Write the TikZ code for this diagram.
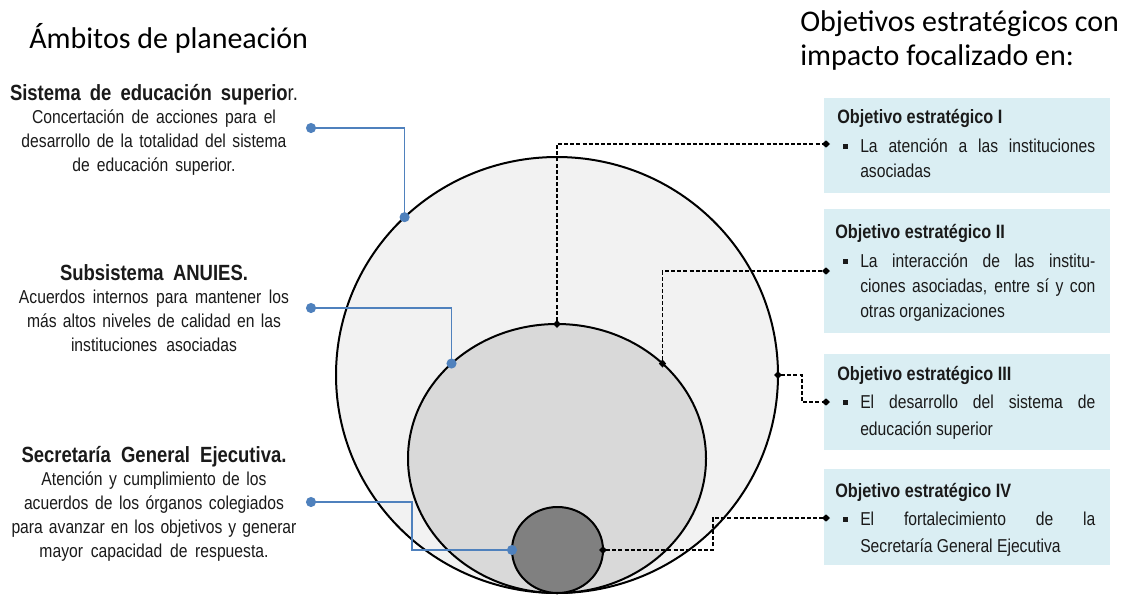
\documentclass[tikz,border=0pt]{standalone}
\usepackage{fontspec}
\setmainfont{Liberation Sans}[FakeStretch=0.84]
\newfontfamily\calibri{Carlito}
\usetikzlibrary{arrows.meta,shapes.geometric}
\newlength\pxu \setlength\pxu{0.75pt}
\definecolor{bigfill}{HTML}{F2F2F2}
\definecolor{midfill}{HTML}{D9D9D9}
\definecolor{smallfill}{HTML}{808080}
\definecolor{boxblue}{HTML}{DAEEF3}
\definecolor{conblue}{HTML}{4F81BD}
\definecolor{txt}{HTML}{1A1A1A}
\tikzset{
  circ/.style={ellipse, draw=black, line width=1.5pt, inner sep=0pt, outer sep=0pt},
  bluecon/.style={draw=conblue, line width=1.1pt, {Circle[length=7.5pt]}-{Circle[length=7.5pt]}, shorten <=-3.75pt, shorten >=-3.75pt},
  dashcon/.style={draw=black, line width=0.9pt, dash pattern=on 3pt off 1.6pt, {Diamond[length=6pt,width=5.5pt]}-{Diamond[length=6pt,width=5.5pt]}, shorten <=-3pt, shorten >=-3pt},
  obox/.style={fill=boxblue, inner sep=0pt, anchor=north west, minimum width=286\pxu},
  title/.style={anchor=base west, inner sep=0pt, text=black, font=\calibri\fontsize{22.5}{25.5}\selectfont},
  lefttxt/.style={anchor=base, inner sep=0pt, text=txt, font=\fontsize{14}{17.85}\selectfont},
  boxhead/.style={anchor=base west, inner sep=0pt, text=txt, font=\bfseries\fontsize{14.5}{16}\selectfont},
  boxtxt/.style={anchor=base west, inner sep=0pt, text=txt, font=\fontsize{14}{19}\selectfont},
}
\newcommand{\bul}{\leavevmode\llap{\rule[3.2\pxu]{5\pxu}{5\pxu}\hspace{12\pxu}}}
\newcommand{\lhead}{\bfseries\fontsize{16.5}{17.85}\selectfont}
\begin{document}
\begin{tikzpicture}[x=0.75pt,y=-0.75pt]
\path[use as bounding box, clip] (0,0) rectangle (1125,594);
\fill[white] (0,0) rectangle (1125,594);

% circles
\node[circ, fill=bigfill, minimum width=442\pxu, minimum height=436\pxu] (big) at (557,375) {};
\node[circ, fill=midfill, minimum width=298\pxu, minimum height=269\pxu] (mid) at (557,458.5) {};
\node[circ, fill=smallfill, minimum width=91\pxu, minimum height=86\pxu] (small) at (557.5,550) {};

% boxes
\node[obox, minimum height=95\pxu] (b1) at (824,98) {};
\node[obox, minimum height=124\pxu] (b2) at (824,209) {};
\node[obox, minimum height=96\pxu] (b3) at (824,354) {};
\node[obox, minimum height=96\pxu] (b4) at (824,469) {};

% coordinates
\coordinate (d1) at (311,128);
\coordinate (d2) at (311,308);
\coordinate (d3) at (311,502);
\coordinate (t1) at (826,144);
\coordinate (t2) at (826,271);
\coordinate (t3) at (826,402);
\coordinate (t4) at (826,518);

% blue connectors
\draw[bluecon] (d1) -| (big.134.5);
\draw[bluecon] (d2) -| (mid.138);
\draw[bluecon] (d3) -- ++(101,0) |- (small.west);

% dashed connectors
\draw[dashcon] (mid.north) |- (t1);
\draw[dashcon] (mid.42) |- (t2);
\draw[dashcon] (big.east) -- ++(24,0) |- (t3);
\draw[dashcon] (small.east) -- ++(110,0) |- (t4);

% titles
\node[title] (lt) at (29,48) {Ámbitos de planeación};
\node[title] (rt) at (800,31) {\parbox[t]{330\pxu}{Objetivos estratégicos con\\impacto focalizado en:}};

% left texts
\node[lefttxt] (s1) at (154,100) {\parbox[t]{320\pxu}{\centering
\makebox[288\pxu][s]{\lhead Sistema de educación superio\mdseries r.}\\
\makebox[244\pxu][s]{Concertación de acciones para el}\\
\makebox[265\pxu][s]{desarrollo de la totalidad del sistema}\\
\makebox[163\pxu][s]{de educación superior.}}};

\node[lefttxt] (s2) at (154,280) {\parbox[t]{320\pxu}{\centering
\makebox[188\pxu][s]{\lhead Subsistema ANUIES.}\\
\makebox[270\pxu][s]{Acuerdos internos para mantener los}\\
\makebox[254\pxu][s]{más altos niveles de calidad en las}\\
\makebox[166\pxu][s]{instituciones asociadas}}};

\node[lefttxt] (s3) at (154,462) {\parbox[t]{320\pxu}{\centering
\makebox[265\pxu][s]{\lhead Secretaría General Ejecutiva.}\\
\makebox[225\pxu][s]{Atención y cumplimiento de los}\\
\makebox[260\pxu][s]{acuerdos de los órganos colegiados}\\
\makebox[285\pxu][s]{para avanzar en los objetivos y generar}\\
\makebox[229\pxu][s]{mayor capacidad de respuesta.}}};

% box texts
\node[boxhead] (h1) at (837,123) {Objetivo estratégico I};
\node[boxtxt] (x1) at (860,152) {\parbox[t]{235\pxu}{\bul\makebox[235\pxu][s]{La atención a las instituciones}\\asociadas}};

\node[boxhead] (h2) at (835,238) {Objetivo estratégico II};
\node[boxtxt, font=\fontsize{14}{19.1}\selectfont] (x2) at (860,267) {\parbox[t]{235\pxu}{\bul\makebox[235\pxu][s]{La interacción de las institu-}\\\makebox[235\pxu][s]{ciones asociadas, entre sí y con}\\otras organizaciones}};

\node[boxhead] (h3) at (837,380) {Objetivo estratégico III};
\node[boxtxt, font=\fontsize{14}{20.25}\selectfont] (x3) at (860,408) {\parbox[t]{235\pxu}{\bul\makebox[235\pxu][s]{El desarrollo del sistema de}\\educación superior}};

\node[boxhead] (h4) at (835,497) {Objetivo estratégico IV};
\node[boxtxt, font=\fontsize{14}{20.25}\selectfont] (x4) at (860,525) {\parbox[t]{235\pxu}{\bul\makebox[235\pxu][s]{El fortalecimiento de la}\\Secretaría General Ejecutiva}};
\end{tikzpicture}
\end{document}
